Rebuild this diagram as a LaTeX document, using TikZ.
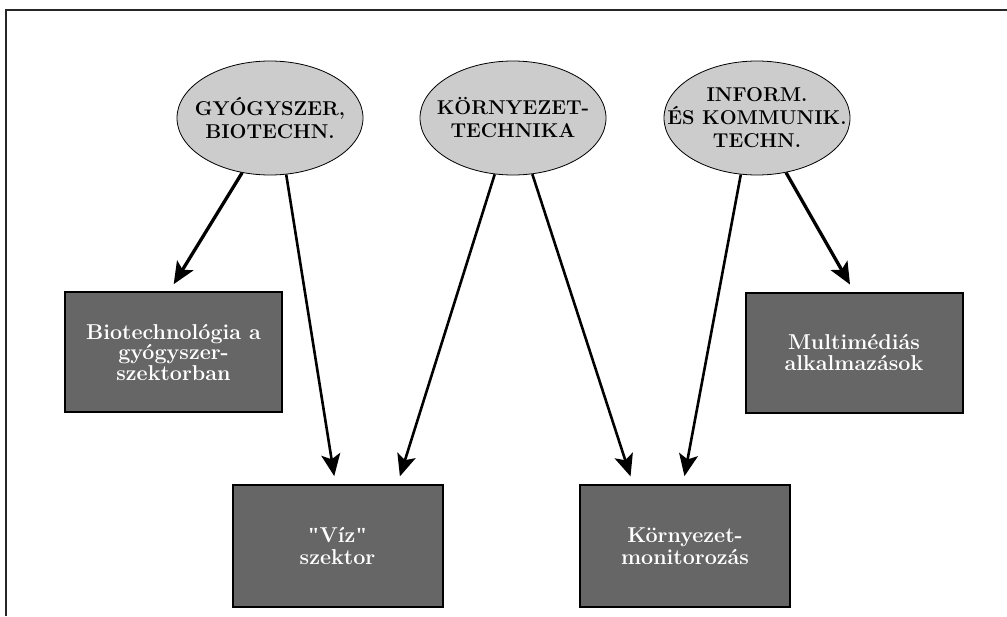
\documentclass[tikz,border=0pt]{standalone}
\usepackage{fontspec}
\newfontfamily\quotefont{Liberation Serif}
\usetikzlibrary{arrows.meta,calc,shapes.geometric}
\definecolor{catgray}{RGB}{204,204,204}
\definecolor{resgray}{RGB}{102,102,102}
\newcommand{\sq}{{\quotefont\bfseries"}}
\begin{document}
\begin{tikzpicture}[x=1pt,y=-1pt,
  cat/.style={ellipse, draw=black, line width=0.8pt, fill=catgray, minimum width=186pt, minimum height=114pt, inner sep=0pt},
  cattext/.style={align=center, inner sep=0pt, font=\fontsize{20}{23}\selectfont\bfseries},
  res/.style={rectangle, draw=black, line width=2pt, fill=resgray, minimum width=217pt, minimum height=120pt, inner sep=0pt, align=center, text=white, font=\fontsize{21.5}{20.5}\selectfont\bfseries},
  resb/.style={res, minimum width=210pt, minimum height=122pt, font=\fontsize{21.5}{22}\selectfont\bfseries},
  link/.style={-{Stealth[length=22pt,width=19pt,inset=5pt]}, line width=2.6pt, shorten >=8pt},
  thicklink/.style={link, line width=3.3pt}]
\useasboundingbox (0,0) rectangle (1007,616);
\draw[line width=1.5pt, draw=black!85] (6,616) -- (6,10) -- (1007,10);

\node[cat] (e1) at (270,118) {};
\node[cattext] (e1t) at (e1.center) {GYÓGYSZER,\\BIOTECHN.};
\node[cat] (e2) at (513,118) {};
\node[cattext] (e2t) at (e2.center) {KÖRNYEZET-\\TECHNIKA};
\node[cat] (e3) at (757,118) {};
\node[cattext] (e3t) at (e3.center) {INFORM.\\ÉS KOMMUNIK.\\TECHN.};

\node[res] (b1) at (173.5,352) {Biotechnológia a\\gyógyszer-\\szektorban};
\node[res] (b2) at (854,352.5) {Multimédiás\\alkalmazások};
\node[resb] (b3) at (337.5,546) {\sq Víz\sq\\szektor};
\node[resb] (b4) at (685,546) {Környezet-\\monitorozás};

\draw[thicklink] (e1.-117.4) -- ($(b1.north)+(-4,0)$);
\draw[link] (e1.-74) -- ($(b3.north)+(-2,0)$);
\draw[link] (e2.-108) -- ($(b3.north)+(60,0)$);
\draw[link] (e2.-71) -- ($(b4.north)+(-52,0)$);
\draw[link] (e3.-106) -- ($(b4.north)+(-2,0)$);
\draw[thicklink] (e3.-62.6) -- (b2.north);
\end{tikzpicture}
\end{document}
